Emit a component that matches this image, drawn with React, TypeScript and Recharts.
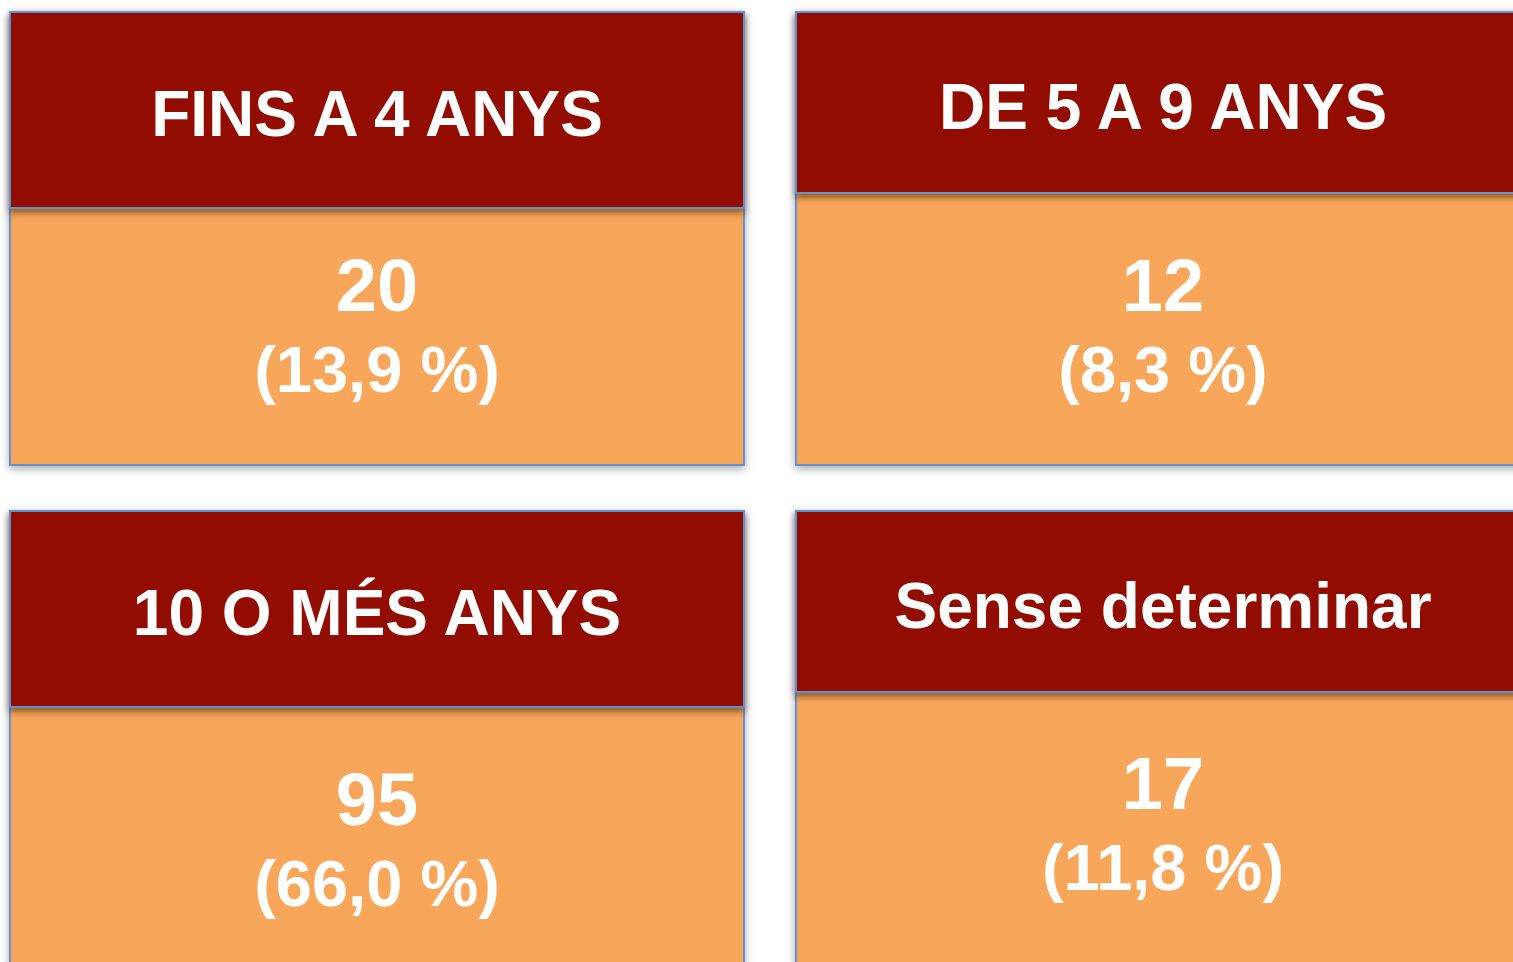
import React from 'react';
import { ScatterChart, Scatter, XAxis, YAxis } from 'recharts';

// Dades del quadre
const categories = ['FINS A 4 ANYS', 'DE 5 A 9 ANYS', '10 O MÉS ANYS', 'Sense determinar'];
const counts = [20, 12, 95, 17];
const percents = [13.9, 8.3, 66.0, 11.8];

// Layout (not data)
const CARD_W = 734;
const CARD_H = 453;
const HEADER_H = [196, 181]; // per column
const NUMBER_OFFSET = [299, 299, 314, 298]; // baseline from card top
const HEADER_FILL = '#921100';
const BODY_FILL = '#F8A65A';
const BORDER = '#5F91D3';
const FONT = '"Liberation Sans", Arial, Helvetica, sans-serif';

const chartData = categories.map((label, i) => ({
  label,
  count: counts[i],
  pct: percents[i],
  col: i % 2,
  row: Math.floor(i / 2),
  idx: i,
}));

const fmtPct = (v: number) => `(${v.toFixed(1).replace('.', ',')} %)`;

const Card = (props: any) => {
  const { cx, cy, payload } = props;
  const i = payload.idx;
  const left = cx - CARD_W / 2;
  const top = cy;
  const hh = HEADER_H[payload.col];
  const numY = top + NUMBER_OFFSET[i];
  return (
    <g>
      <defs>
        <filter id={`cardShadow${i}`} x="-5%" y="-5%" width="110%" height="115%">
          <feDropShadow dx="0" dy="3" stdDeviation="4" floodColor="#000" floodOpacity="0.35" />
        </filter>
        <filter id={`headShadow${i}`} x="-5%" y="-5%" width="110%" height="125%">
          <feDropShadow dx="0" dy="4" stdDeviation="3" floodColor="#3a1a00" floodOpacity="0.55" />
        </filter>
      </defs>
      <rect x={left} y={top} width={CARD_W} height={CARD_H} fill={BODY_FILL} stroke={BORDER} strokeWidth={2} filter={`url(#cardShadow${i})`} />
      <rect x={left} y={top} width={CARD_W} height={hh} fill={HEADER_FILL} stroke={BORDER} strokeWidth={2} filter={`url(#headShadow${i})`} />
      <text x={cx} y={top + hh / 2 + 26} textAnchor="middle" fill="#fff" fontFamily={FONT} fontWeight="bold" fontSize={64}>
        {payload.label}
      </text>
      <text x={cx} y={numY} textAnchor="middle" fill="#fff" fontFamily={FONT} fontWeight="bold" fontSize={74}>
        {payload.count}
      </text>
      <text x={cx} y={numY + 81} textAnchor="middle" fill="#fff" fontFamily={FONT} fontWeight="bold" fontSize={65}>
        {fmtPct(payload.pct)}
      </text>
    </g>
  );
};

const App: React.FC = () => {
  return (
    <div style={{ position: 'absolute', left: 0, top: 0, width: 1513, height: 962, background: '#fff', overflow: 'hidden' }}>
      <ScatterChart width={1513} height={962} margin={{ top: 12, right: 350, bottom: 451, left: 377 }}>
        <XAxis type="number" dataKey="col" domain={[0, 1]} hide />
        <YAxis type="number" dataKey="row" domain={[0, 1]} reversed hide />
        <Scatter data={chartData} shape={<Card />} isAnimationActive={false} />
      </ScatterChart>
    </div>
  );
};

export default App;
